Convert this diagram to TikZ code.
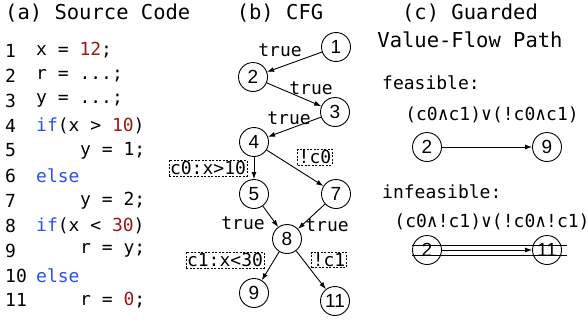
\documentclass[tikz,border=0pt]{standalone}
\usepackage{fontspec}
\setmonofont{DejaVu Sans Mono}
\setsansfont{Liberation Sans}
\usetikzlibrary{arrows.meta}
\definecolor{numred}{RGB}{163,21,21}
\definecolor{kwblue}{RGB}{40,80,240}
\newcommand{\nr}[1]{\textcolor{numred}{#1}}
\newcommand{\kw}[1]{\textcolor{kwblue}{#1}}
\tikzset{
  ttitle/.style={font=\fontsize{20.5}{24}\selectfont\ttfamily, inner sep=0pt},
  code/.style={font=\fontsize{18}{20}\selectfont\ttfamily, anchor=west, inner sep=0pt},
  lnum/.style={code},
  vtx/.style={circle, draw, line width=0.9pt, minimum size=29pt, inner sep=0pt, font=\fontsize{19}{20}\selectfont\sffamily},
  lbl/.style={font=\fontsize{18}{20}\selectfont\ttfamily, inner sep=0pt},
  guard/.style={font=\fontsize{18}{20}\selectfont\ttfamily, draw, dash pattern=on 2pt off 1.5pt, line width=0.6pt, inner sep=1pt},
  edge/.style={line width=0.9pt, -{Latex[length=7pt,width=5pt]}},
  strike/.style={line width=0.9pt}
}
\begin{document}
\begin{tikzpicture}[x=1pt,y=-1pt]
\useasboundingbox (0,0) rectangle (588,324);
% (a)
\node[ttitle, anchor=west] (ta) at (5,13) {(a) Source Code};
\foreach \i/\y in {1/50.5,2/75.5,3/100.5,4/125.5,5/150.5,6/175.5,7/200.5,8/225.5,9/250.5,10/275.5,11/300}{
  \node[lnum] (n\i) at (5,\y) {\i};
}
\node[code] (c1) at (36,50.5) {x = \nr{12};};
\node[code] (c2) at (36,75.5) {r = ...;};
\node[code] (c3) at (36,100.5) {y = ...;};
\node[code] (c4) at (36,125.5) {\kw{if}(x > \nr{10})};
\node[code] (c5) at (80,150.5) {y = 1;};
\node[code] (c6) at (36,175.5) {\kw{else}};
\node[code] (c7) at (80,200.5) {y = 2;};
\node[code] (c8) at (36,225.5) {\kw{if}(x < \nr{30})};
\node[code] (c9) at (80,250.5) {r = y;};
\node[code] (c10) at (36,275.5) {\kw{else}};
\node[code] (c11) at (80,300) {r = \nr{0};};
% (b)
\node[ttitle] (tb) at (280,13) {(b) CFG};
\node[vtx] (v1) at (336,47) {1};
\node[vtx] (v2) at (253,77) {2};
\node[vtx] (v3) at (335,112) {3};
\node[vtx] (v4) at (254,142) {4};
\node[vtx] (v5) at (254,194) {5};
\node[vtx] (v7) at (336,194) {7};
\node[vtx] (v8) at (287,239) {8};
\node[vtx] (v9) at (254,293) {9};
\node[vtx] (v11) at (335,301) {11};
\draw[edge] (v1) -- (v2);
\draw[edge] (v2) -- (v3);
\draw[edge] (v3) -- (v4);
\draw[edge] (v4) -- (v5);
\draw[edge] (v4) -- (v7);
\draw[edge] (v5) -- (v8);
\draw[edge] (v7) -- (v8);
\draw[edge] (v8) -- (v9);
\draw[edge] (v8) -- (v11);
\node[lbl] (l12) at (280,50) {true};
\node[lbl] (l23) at (311,88) {true};
\node[lbl] (l34) at (289,118) {true};
\node[guard] (g0) at (208,168) {c0:x>10};
\node[guard] (g0n) at (315,157) {!c0};
\node[lbl] (l58) at (243,223) {true};
\node[lbl] (l78) at (327,225) {true};
\node[guard] (g1) at (225,260) {c1:x<30};
\node[guard] (g1n) at (329,260) {!c1};
% (c)
\node[ttitle] (tc1) at (470,13) {(c) Guarded};
\node[ttitle] (tc2) at (470,40) {Value-Flow Path};
\node[lbl, anchor=west] (fe) at (382,83) {feasible:};
\node[lbl] (fc) at (492,115) {(c0∧c1)∨(!c0∧c1)};
\node[vtx] (f2) at (427,147) {2};
\node[vtx] (f9) at (547,147) {9};
\draw[edge] (f2) -- (f9);
\node[lbl, anchor=west] (ie) at (382,192) {infeasible:};
\node[lbl] (ic) at (492,222) {(c0∧!c1)∨(!c0∧!c1)};
\node[vtx] (i2) at (427,250) {2};
\node[vtx] (i11) at (547,250) {11};
\draw[edge] (i2) -- (i11);
\coordinate (s1a) at (412,245);
\coordinate (s1b) at (567,245);
\coordinate (s2a) at (412,255);
\coordinate (s2b) at (567,255);
\draw[strike] (s1a) -- (s1b);
\draw[strike] (s2a) -- (s2b);
\end{tikzpicture}
\end{document}
